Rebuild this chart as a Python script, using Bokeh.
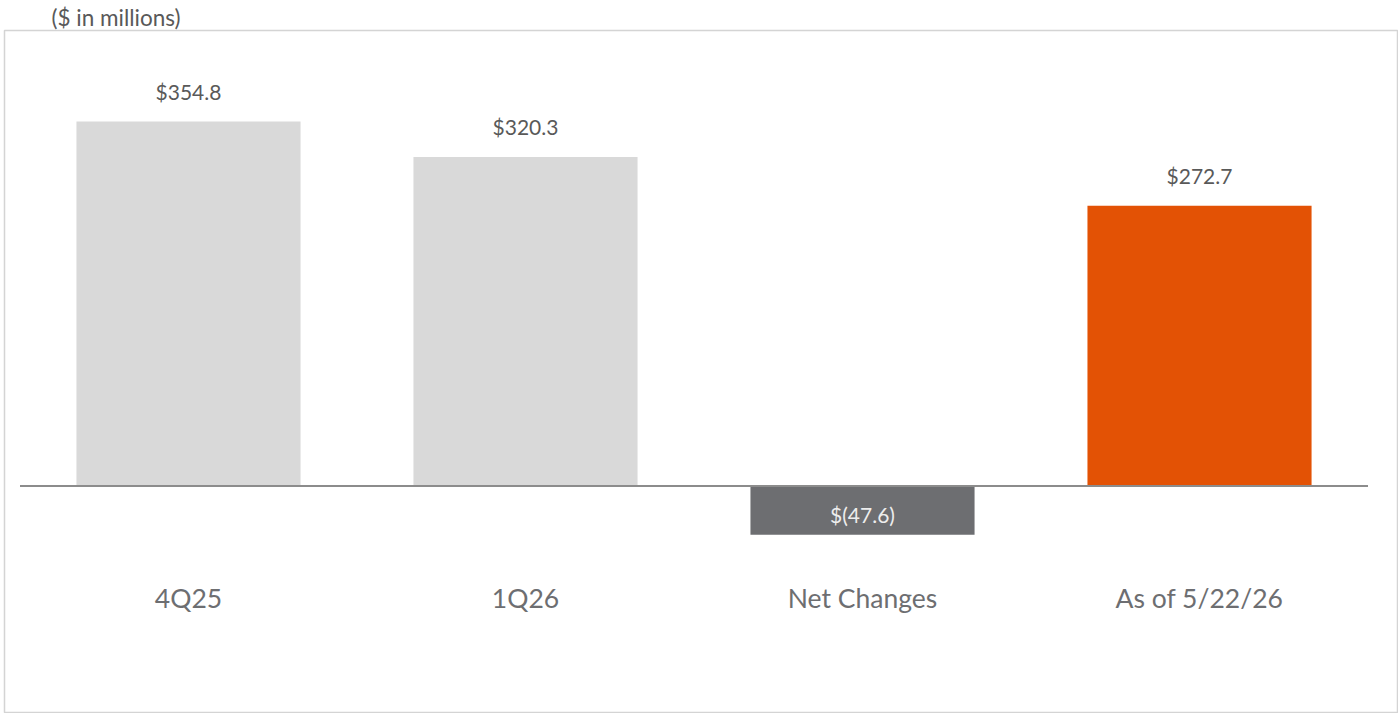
from bokeh.plotting import figure
from bokeh.models import ColumnDataSource, Range1d
from bokeh.core.properties import value
from bokeh.embed import file_html
from bokeh.resources import INLINE

categories = ["4Q25", "1Q26", "Net Changes", "As of 5/22/26"]
values = [354.8, 320.3, -47.6, 272.7]
labels = ["$354.8", "$320.3", "$(47.6)", "$272.7"]
colors = ["#d9d9d9", "#d9d9d9", "#6d6e71", "#e35205"]

idx = list(range(len(categories)))
pos = [v if v >= 0 else 0 for v in values]
neg = [v if v < 0 else 0 for v in values]

src = ColumnDataSource(dict(
    x=idx, cat=categories, val=values, top=pos, bottom=neg, color=colors, label=labels,
))

p = figure(
    width=1398, height=713,
    x_range=Range1d(-0.546, len(categories) - 1 + 0.5875),
    y_range=Range1d(-221.5, 443.4),
    output_backend="svg", toolbar_location=None,
    min_border_left=4, min_border_right=1, min_border_top=30, min_border_bottom=0,
    styles={"position": "absolute", "left": "0px", "top": "0px"},
)
p.background_fill_color = "white"
p.border_fill_color = "white"
p.outline_line_color = "#d4d4d4"
p.outline_line_width = 1.5
p.xaxis.visible = False
p.yaxis.visible = False
p.xgrid.visible = False
p.ygrid.visible = False

p.title.text = "($ in millions)"
p.title.text_font = "Lato"
p.title.text_font_size = "22.5px"
p.title.text_font_style = "normal"
p.title.text_color = "#595959"
p.title.align = "left"
p.title.offset = 47
p.title.standoff = 0

p.vbar(x="x", width=0.665, top="top", bottom="bottom", fill_color="color",
       line_color=None, source=src)

# zero line across the category band
p.segment(x0=[-0.5], y0=[0], x1=[len(categories) - 0.5], y1=[0],
          line_color="#8c8c8c", line_width=2)

pos_src = ColumnDataSource(dict(
    x=[i for i, v in zip(idx, values) if v >= 0],
    y=[v for v in values if v >= 0],
    t=[l for l, v in zip(labels, values) if v >= 0],
))
neg_src = ColumnDataSource(dict(
    x=[i for i, v in zip(idx, values) if v < 0],
    y=[0 for v in values if v < 0],
    t=[l for l, v in zip(labels, values) if v < 0],
))

p.text(x="x", y="y", text="t", source=pos_src, text_align="center",
       text_baseline="middle", y_offset=-30, text_font=value("Lato"),
       text_font_size="21px", text_color="#595959")
p.text(x="x", y="y", text="t", source=neg_src, text_align="center",
       text_baseline="middle", y_offset=29, text_font=value("Lato"),
       text_font_size="21px", text_color="#ededed")

# category labels
p.text(x="x", y=0, text="cat", source=src, text_align="center",
       text_baseline="middle", y_offset=112, text_font=value("Lato"),
       text_font_size="26.5px", text_color="#6d6e71")

open("out.html", "w").write(file_html(p, INLINE))
